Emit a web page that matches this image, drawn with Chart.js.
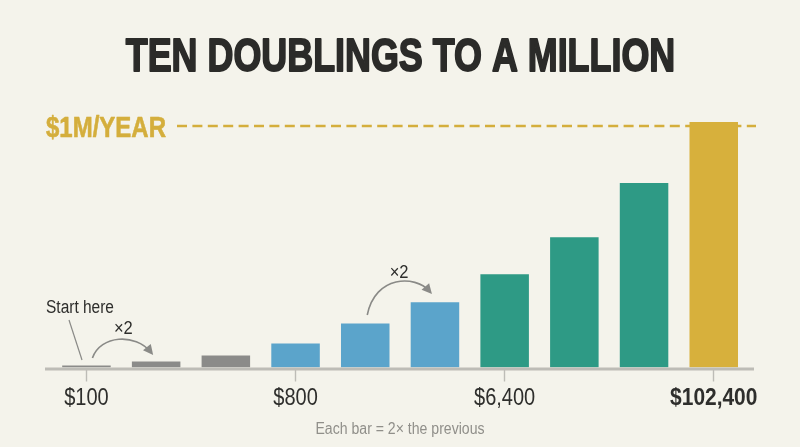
<!DOCTYPE html>
<html>
<head>
<meta charset="utf-8">
<title>Ten doublings to a million</title>
<script src="https://cdn.jsdelivr.net/npm/chart.js@4"></script>
<style>
  html, body { margin: 0; padding: 0; background: #f4f3eb; }
  canvas { display: block; }
</style>
</head>
<body>
<canvas id="chart-doublings" width="800" height="447"></canvas>
<script>
/* ── DATA ── */
const tickLabels = ['$100', '', '', '$800', '', '', '$6,400', '', '', '$102,400'];
// bar heights as drawn in the picture (not to scale with the dollar labels)
const barValues  = [2, 6, 12, 24, 44, 65, 93, 130, 184, 245];
const barColors  = ['#8b8b89', '#8b8b89', '#8b8b89', '#5ba4cb', '#5ba4cb', '#5ba4cb', '#2e9a85', '#2e9a85', '#2e9a85', '#d7b03c'];
const goalValue  = 241;
const goalLabel  = '$1M/YEAR';
const titleText  = 'TEN DOUBLINGS TO A MILLION';
const footNote   = 'Each bar = 2× the previous';

const FONT = '"Liberation Sans", sans-serif';

// no condensed face installed, so squeeze the text horizontally
function narrowText(ctx, text, x, y, font, color, squeeze, align, heavy) {
  ctx.save();
  ctx.translate(x, y);
  ctx.scale(squeeze, 1);
  ctx.font = font;
  ctx.fillStyle = color;
  ctx.textAlign = align || 'center';
  ctx.textBaseline = 'middle';
  if (heavy) {
    ctx.strokeStyle = color;
    ctx.lineWidth = heavy;
    ctx.lineJoin = 'round';
    ctx.strokeText(text, 0, 0);
  }
  ctx.fillText(text, 0, 0);
  ctx.restore();
}

function drawArrow(ctx, x0, y0, c1x, c1y, c2x, c2y, x1, y1) {
  ctx.strokeStyle = '#8a8a87';
  ctx.fillStyle = '#8a8a87';
  ctx.lineWidth = 1.6;
  const a = Math.atan2(y1 - c2y, x1 - c2x);
  ctx.beginPath();
  ctx.moveTo(x0, y0);
  ctx.bezierCurveTo(c1x, c1y, c2x, c2y, x1 - 4 * Math.cos(a), y1 - 4 * Math.sin(a));
  ctx.stroke();
  ctx.beginPath();
  ctx.moveTo(x1, y1);
  ctx.lineTo(x1 - 10 * Math.cos(a) - 5 * Math.sin(a), y1 - 10 * Math.sin(a) + 5 * Math.cos(a));
  ctx.lineTo(x1 - 10 * Math.cos(a) + 5 * Math.sin(a), y1 - 10 * Math.sin(a) - 5 * Math.cos(a));
  ctx.closePath();
  ctx.fill();
}

/* ── GOAL LINE, drawn behind the bars ── */
const goalLinePlugin = {
  id: 'goalLine',
  beforeDatasetsDraw(chart) {
    const { ctx, scales: { y } } = chart;
    const gy = y.getPixelForValue(goalValue);
    ctx.save();
    ctx.strokeStyle = '#d4ae3c';
    ctx.lineWidth = 2.5;
    ctx.setLineDash([10, 5.4]);
    ctx.beginPath();
    ctx.moveTo(177, gy);
    ctx.lineTo(756, gy);
    ctx.stroke();
    ctx.restore();
    narrowText(ctx, goalLabel, 46, gy + 3, 'bold 30px ' + FONT, '#d4ae3c', 0.8, 'left', 0.6);
  },
};

/* ── TITLE, AXIS LINE, TICK LABELS + NOTES ── */
const notesPlugin = {
  id: 'notes',
  afterDraw(chart) {
    const { ctx, chartArea, scales: { x } } = chart;
    const base = chartArea.bottom + 1.5;
    const dark = '#2e2e2c';

    narrowText(ctx, titleText, 400.5, 58, 'bold 46px ' + FONT, '#2b2b29', 0.78, 'center', 1.8);

    ctx.save();
    ctx.fillStyle = '#bdbcb6';
    ctx.fillRect(45, base - 1.5, 709, 3);
    ctx.restore();

    tickLabels.forEach((label, i) => {
      if (!label) return;
      const isLast = i === tickLabels.length - 1;
      narrowText(ctx, label, x.getPixelForValue(i), 398.5,
        (isLast ? 'bold ' : '') + '23px ' + FONT, dark, isLast ? 0.91 : 0.87);
    });

    const p0 = x.getPixelForValue(0);
    const p1 = x.getPixelForValue(1);
    const p4 = x.getPixelForValue(4);
    const p5 = x.getPixelForValue(5);

    narrowText(ctx, 'Start here', 46, 308.5, '18px ' + FONT, dark, 0.86, 'left');
    narrowText(ctx, '×2', (p0 + p1) / 2 + 2, 329, '19px ' + FONT, dark, 0.87);
    narrowText(ctx, '×2', (p4 + p5) / 2 - 1, 273, '19px ' + FONT, dark, 0.87);

    ctx.save();
    ctx.strokeStyle = '#8a8a87';
    ctx.lineWidth = 1.2;
    ctx.beginPath();
    ctx.moveTo(69, 320);
    ctx.lineTo(82, 360);
    ctx.stroke();
    drawArrow(ctx, p0 + 6, 358, p0 + 14, 335, p0 + 49, 333, p1 - 3, 355);
    drawArrow(ctx, p4 + 2, 315, p4 + 10, 275, p4 + 50, 275, p5 - 3, 294);
    ctx.restore();

    narrowText(ctx, footNote, 400, 429.5, '16px ' + FONT, '#908f8a', 0.88);
  },
};

/* ── CHART ── */
new Chart(document.getElementById('chart-doublings').getContext('2d'), {
  type: 'bar',
  data: {
    labels: tickLabels,
    datasets: [{
      data: barValues,
      backgroundColor: barColors,
      borderWidth: 0,
      barPercentage: 1,
      categoryPercentage: 0.696,
    }],
  },
  options: {
    responsive: false,
    animation: false,
    layout: { padding: { left: 51.6, right: 51.4, top: 122, bottom: 65.5 } },
    plugins: {
      legend: { display: false },
      tooltip: { enabled: false },
    },
    scales: {
      x: {
        border: { display: false },
        grid: {
          offset: false,
          drawOnChartArea: false,
          tickLength: 14,
          tickWidth: 1.4,
          tickColor: ctx => (tickLabels[ctx.index] ? '#bdbcb6' : 'transparent'),
        },
        ticks: { display: false, autoSkip: false, maxRotation: 0 },
      },
      y: { display: false, min: 0, max: 245 },
    },
  },
  plugins: [goalLinePlugin, notesPlugin],
});
</script>
</body>
</html>
